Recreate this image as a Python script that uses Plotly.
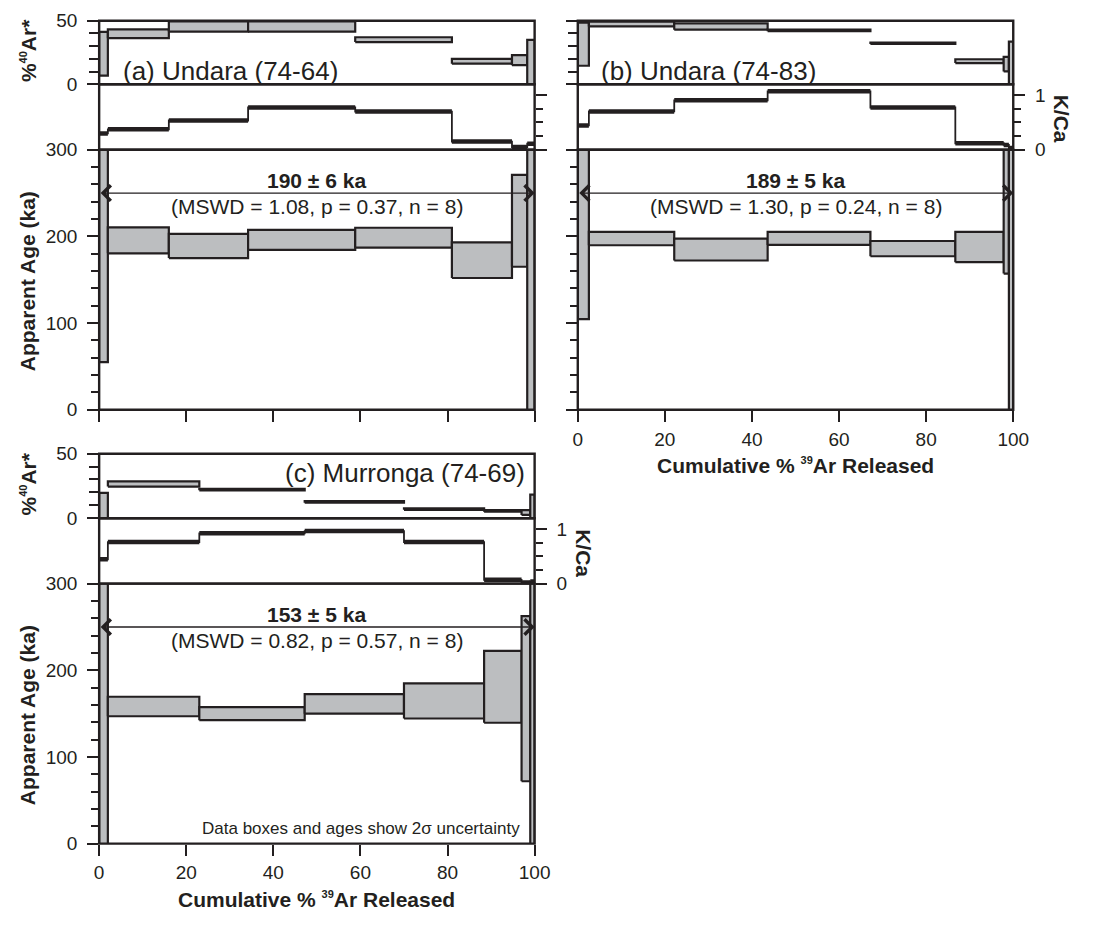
import plotly.graph_objects as go

# ---------------- data ----------------
# cumulative %39Ar step boundaries
a_edges = [0, 2.0, 16.0, 34.2, 58.8, 81.0, 94.8, 98.3, 100]
b_edges = [0, 2.55, 22.15, 43.6, 67.2, 86.7, 97.8, 99.0, 100]
c_edges = [0, 2.0, 23.0, 47.2, 70.0, 88.4, 97.0, 99.0, 100]

# apparent age boxes (ka), 2-sigma lower / upper
a_age_lo = [55, 180.5, 175, 184.5, 187, 152, 165, -10]
a_age_hi = [345, 210.5, 203, 207.5, 210, 193, 271, 345]
b_age_lo = [104.5, 189.8, 172.2, 190.2, 177.1, 170.3, 157.1, -10]
b_age_hi = [345, 205.3, 197.4, 205.3, 194.7, 205.3, 345, 345]
c_age_lo = [-10, 147, 142.5, 150, 144.4, 139.5, 72, -10]
c_age_hi = [345, 169.5, 157.5, 172.5, 184.9, 222.4, 262.5, 345]

# %40Ar* boxes
a_ar_lo = [6.75, 36.25, 41.5, 41.5, 33.25, 16.25, 15, 0]
a_ar_hi = [41.25, 43.25, 49.5, 49.5, 37, 20, 23, 35]
b_ar_lo = [14.6, 45.5, 43.0, 41.8, 31.7, 16.7, 10.1, 0]
b_ar_hi = [48.5, 49.2, 48.0, 43.0, 32.9, 19.7, 21.5, 33.6]
c_ar_lo = [0, 24.5, 21.6, 12.0, 6.5, 5.0, 2.5, 0]
c_ar_hi = [19.7, 28.5, 22.8, 13.2, 7.7, 6.2, 6.3, 18.2]

# K/Ca
a_kca = [0.30, 0.375, 0.536, 0.774, 0.70, 0.149, 0.05, 0.11]
b_kca = [0.446, 0.702, 0.905, 1.07, 0.774, 0.119, 0.089, 0.03]
c_kca = [0.446, 0.762, 0.923, 0.964, 0.762, 0.07, 0.02, 0.04]

# plateau results
panel_names = ["(a) Undara (74-64)", "(b) Undara (74-83)", "(c) Murronga (74-69)"]
plateau_age = [190, 189, 153]
plateau_err = [6, 5, 5]
plateau_mswd = ["1.08", "1.30", "0.82"]
plateau_p = ["0.37", "0.24", "0.57"]
plateau_n = [8, 8, 8]
plateau_level = 250

x_ticks = [0, 20, 40, 60, 80, 100]
age_ticks = [0, 100, 200, 300]
ar_ticks = [0, 50]
kca_ticks = [0, 1]
kca_minor_ticks = [0.25, 0.5, 0.75]

# ---------------- styling / layout ----------------
W, H = 1093, 925
DARK = "#231f20"
GRAY = "#bcbec0"
FONT = "Liberation Sans, Arial, sans-serif"
SUP = "<sup><span style='font-size:11px'>%s</span></sup>"


def fx(p):
    return p / W


def fy(p):
    return 1 - p / H


panels = [
    dict(edges=a_edges, age_lo=a_age_lo, age_hi=a_age_hi, ar_lo=a_ar_lo, ar_hi=a_ar_hi, kca=a_kca,
         xpx=(96, 540), ypx=(11, 76, 143, 409), xlab=False, agelab=True, kcalab=False,
         title_x=5.0, title_y=10.5, title_anchor="left"),
    dict(edges=b_edges, age_lo=b_age_lo, age_hi=b_age_hi, ar_lo=b_ar_lo, ar_hi=b_ar_hi, kca=b_kca,
         xpx=(584, 1028), ypx=(11, 76, 143, 409), xlab=True, agelab=False, kcalab=True,
         title_x=4.8, title_y=10.5, title_anchor="left"),
    dict(edges=c_edges, age_lo=c_age_lo, age_hi=c_age_hi, ar_lo=c_ar_lo, ar_hi=c_ar_hi, kca=c_kca,
         xpx=(96, 540), ypx=(454, 520, 587, 853), xlab=True, agelab=True, kcalab=True,
         title_x=98.3, title_y=35, title_anchor="right"),
]

fig = go.Figure()
layout = dict(
    width=W, height=H, margin=dict(l=0, r=0, t=0, b=0), autosize=False,
    paper_bgcolor="white", plot_bgcolor="white", showlegend=False,
    font=dict(family=FONT, color=DARK, size=19),
)
shapes = []
annotations = []

for i, P in enumerate(panels):
    xn = "" if i == 0 else str(i + 1)
    y_age = str(3 * i + 1) if i > 0 else ""
    y_ar = str(3 * i + 2)
    y_k = str(3 * i + 3)
    xa = "x" + xn
    ya_age = "y" + y_age
    ya_ar = "y" + y_ar
    ya_k = "y" + y_k
    x0p, x1p = P["xpx"]
    t_ar, t_k, t_age, b_age = P["ypx"]
    xdom = [fx(x0p), fx(x1p)]

    layout["xaxis" + xn] = dict(
        domain=xdom, anchor=ya_age, range=[0, 100],
        showgrid=False, zeroline=False, showline=False,
        tickmode="array", tickvals=x_ticks, ticks="outside", ticklen=11, tickwidth=2, tickcolor=DARK,
        showticklabels=P["xlab"], tickfont=dict(size=19), ticklabelstandoff=1,
    )
    common_y = dict(anchor=xa, showgrid=False, zeroline=False, showline=False, tickcolor=DARK,
                    ticks="outside", tickwidth=2, tickfont=dict(size=19))
    layout["yaxis" + y_age] = dict(
        common_y, domain=[fy(b_age), fy(t_age)], range=[0, 300],
        tickmode="array", tickvals=age_ticks, ticklen=11,
        showticklabels=P["agelab"], ticklabelstandoff=6,
        minor=dict(dtick=20, tick0=0, ticks="outside", ticklen=7, tickwidth=2, tickcolor=DARK),
    )
    layout["yaxis" + y_ar] = dict(
        common_y, domain=[fy(t_k), fy(t_ar)], range=[0, 50],
        tickmode="array", tickvals=ar_ticks, ticklen=11,
        showticklabels=P["agelab"], ticklabelstandoff=6,
        minor=dict(dtick=10, tick0=0, ticks="outside", ticklen=9, tickwidth=2, tickcolor=DARK),
    )
    layout["yaxis" + y_k] = dict(
        common_y, domain=[fy(t_age), fy(t_k)], range=[0, 1.2], side="right",
        tickmode="array", tickvals=kca_ticks, ticklen=11,
        showticklabels=P["kcalab"], ticklabelstandoff=6,
        minor=dict(tickmode="array", tickvals=kca_minor_ticks, ticks="outside",
                   ticklen=7, tickwidth=2, tickcolor=DARK),
    )

    # frames for the three sub-panels
    for yy in (ya_age, ya_ar, ya_k):
        shapes.append(dict(type="rect", xref=xa + " domain", yref=yy + " domain",
                           x0=0, x1=1, y0=0, y1=1, line=dict(color=DARK, width=2.4),
                           fillcolor="rgba(0,0,0,0)", layer="above"))

    edges = P["edges"]
    # boxes
    for lo_k, hi_k, yy in (("age_lo", "age_hi", ya_age), ("ar_lo", "ar_hi", ya_ar)):
        for j in range(len(edges) - 1):
            xl, xr = edges[j], edges[j + 1]
            lo, hi = P[lo_k][j], P[hi_k][j]
            fig.add_trace(go.Scatter(
                x=[xl, xr, xr, xl, xl], y=[lo, lo, hi, hi, lo], mode="lines",
                fill="toself", fillcolor=GRAY, line=dict(color=DARK, width=2.2),
                xaxis=xa, yaxis=yy, hoverinfo="skip", showlegend=False))

    # K/Ca: thin step connectors + thick horizontal segments
    kca = P["kca"]
    fig.add_trace(go.Scatter(
        x=list(edges), y=list(kca) + [kca[-1]], mode="lines", line=dict(color=DARK, width=1.8, shape="hv"),
        xaxis=xa, yaxis=ya_k, hoverinfo="skip", showlegend=False))
    hx, hy = [], []
    for j in range(len(kca)):
        hx += [edges[j], edges[j + 1], None]
        hy += [kca[j], kca[j], None]
    fig.add_trace(go.Scatter(
        x=hx, y=hy, mode="lines", line=dict(color=DARK, width=4.5),
        xaxis=xa, yaxis=ya_k, hoverinfo="skip", showlegend=False))

    # plateau arrow
    annotations.append(dict(
        x=100, y=plateau_level, ax=0, ay=plateau_level, xref=xa, yref=ya_age, axref=xa, ayref=ya_age,
        text="", showarrow=True, arrowhead=4, startarrowhead=4, arrowside="end+start",
        arrowsize=2.3, startarrowsize=2.3, arrowwidth=1.3, arrowcolor=DARK))
    annotations.append(dict(
        x=50, y=265, xref=xa, yref=ya_age, showarrow=False, xanchor="center", yanchor="middle",
        text="<b>%d ± %d ka</b>" % (plateau_age[i], plateau_err[i]), font=dict(size=21)))
    annotations.append(dict(
        x=50, y=234, xref=xa, yref=ya_age, showarrow=False, xanchor="center", yanchor="middle",
        text="(MSWD = %s, p = %s, n = %d)" % (plateau_mswd[i], plateau_p[i], plateau_n[i]),
        font=dict(size=21)))
    # panel title
    annotations.append(dict(
        x=P["title_x"], y=P["title_y"], xref=xa, yref=ya_ar, showarrow=False,
        xanchor=P["title_anchor"], yanchor="middle", text=panel_names[i], font=dict(size=26)))

    # axis titles
    if P["agelab"]:
        annotations.append(dict(
            x=fx(23), y=fy((t_age + b_age) / 2 + 2), xref="paper", yref="paper", showarrow=False,
            text="<b>Apparent Age (ka)</b>", textangle=-90, xanchor="center", yanchor="middle",
            font=dict(size=21)))
        annotations.append(dict(
            x=fx(24), y=fy((t_ar + t_k) / 2 - 2), xref="paper", yref="paper", showarrow=False,
            text="<b>%" + SUP % "40" + "Ar*</b>", textangle=-90, xanchor="center", yanchor="middle",
            font=dict(size=21)))
    if P["xlab"]:
        annotations.append(dict(
            x=fx((x0p + x1p) / 2), y=fy(b_age + 57), xref="paper", yref="paper", showarrow=False,
            text="<b>Cumulative % " + SUP % "39" + "Ar Released</b>", xanchor="center", yanchor="middle",
            font=dict(size=21)))
    if P["kcalab"]:
        annotations.append(dict(
            x=fx(x1p + 49), y=fy((t_k + t_age) / 2 + 2), xref="paper", yref="paper", showarrow=False,
            text="<b>K/Ca</b>", textangle=90, xanchor="center", yanchor="middle",
            font=dict(size=21)))

# note in panel (c)
annotations.append(dict(
    x=97, y=18, xref="x3", yref="y7", showarrow=False, xanchor="right", yanchor="middle",
    text="Data boxes and ages show 2σ uncertainty", font=dict(size=17)))

layout["shapes"] = shapes
layout["annotations"] = annotations
fig.update_layout(**layout)
fig.write_html("out.html")
